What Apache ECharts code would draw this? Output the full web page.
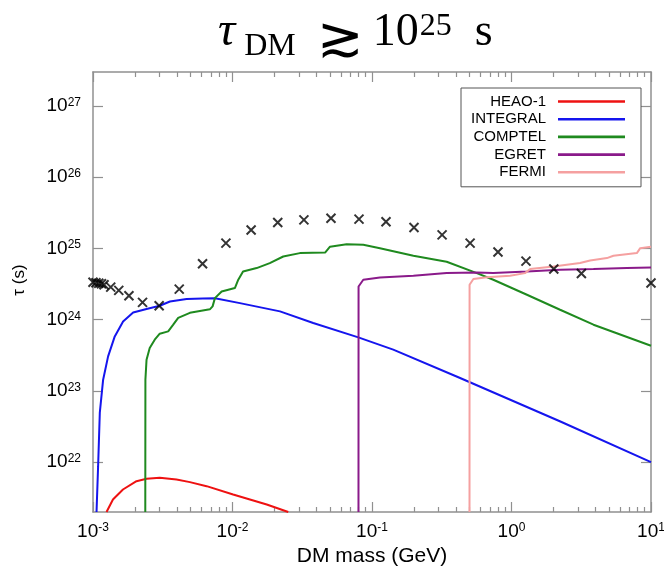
<!DOCTYPE html>
<html>
<head>
<meta charset="utf-8">
<script src="https://cdn.jsdelivr.net/npm/echarts@6/dist/echarts.min.js"></script>
<style>
  html, body { margin: 0; padding: 0; background: #fff; }
  #chart { width: 664px; height: 570px; }
</style>
</head>
<body>
<div id="chart"></div>
<script>
// Major tick positions (decades) on both log axes
const xTicks = [1e-3, 1e-2, 1e-1, 1, 10];
const yTicks = [1e22, 1e23, 1e24, 1e25, 1e26, 1e27];

// HEAO-1 lower bound on the lifetime
const heaoMass = [1.25e-3, 1.39e-3, 1.64e-3, 2.05e-3, 2.42e-3, 3.01e-3, 3.97e-3, 4.95e-3, 6.52e-3, 1.01e-2, 1.76e-2, 2.51e-2];
const heaoTau  = [2.0e21, 3.0e21, 4.14e21, 5.42e21, 5.85e21, 6.04e21, 5.72e21, 5.25e21, 4.61e21, 3.53e21, 2.55e21, 2.0e21];

// INTEGRAL
const integralMass = [1.06e-3, 1.088e-3, 1.119e-3, 1.182e-3, 1.283e-3, 1.432e-3, 1.643e-3, 1.94e-3, 2.42e-3, 3.01e-3, 3.56e-3, 4.69e-3, 6.14e-3, 7.49e-3, 1.13e-2, 2.19e-2, 3.79e-2, 7.98e-2, 0.142, 0.428, 2.22, 10];
const integralTau  = [2.0e21, 8.8e21, 4.97e22, 1.44e23, 3.06e23, 5.83e23, 9.46e23, 1.26e24, 1.41e24, 1.57e24, 1.80e24, 1.95e24, 1.99e24, 2.0e24, 1.71e24, 1.31e24, 8.99e23, 5.65e23, 3.80e23, 1.52e23, 3.76e22, 1.0e22];

// COMPTEL
const comptelMass = [2.37e-3, 2.375e-3, 2.42e-3, 2.55e-3, 2.77e-3, 3.01e-3, 3.46e-3, 3.76e-3, 4.08e-3, 4.95e-3, 6.88e-3, 7.2e-3, 7.48e-3, 8.36e-3, 1.04e-2, 1.10e-2, 1.19e-2, 1.49e-2, 1.85e-2, 2.31e-2, 3.04e-2, 4.61e-2, 5.0e-2, 6.58e-2, 8.66e-2, 0.114, 0.198, 0.343, 0.564, 0.741, 1.29, 2.23, 3.87, 10];
const comptelTau  = [2.0e21, 1.44e23, 2.75e23, 4.01e23, 5.25e23, 6.37e23, 6.86e23, 8.51e23, 1.06e24, 1.25e24, 1.40e24, 1.54e24, 2.01e24, 2.49e24, 2.78e24, 3.64e24, 4.75e24, 5.31e24, 6.24e24, 7.71e24, 8.61e24, 8.77e24, 1.06e25, 1.15e25, 1.125e25, 1.01e25, 7.9e24, 6.5e24, 4.51e24, 3.64e24, 2.24e24, 1.38e24, 8.51e23, 4.32e23];

// EGRET
const egretMass = [0.080, 0.0801, 0.0866, 0.114, 0.198, 0.343, 0.564, 0.741, 1.29, 2.23, 3.87, 6.71, 10];
const egretTau  = [2.0e21, 2.93e24, 3.64e24, 3.92e24, 4.14e24, 4.51e24, 4.60e24, 4.51e24, 4.75e24, 5.02e24, 5.14e24, 5.31e24, 5.41e24];

// FERMI
const fermiMass = [0.500, 0.5005, 0.533, 0.666, 0.977, 1.25, 1.36, 2.0, 3.10, 3.66, 4.83, 5.38, 7.92, 8.37, 10];
const fermiTau  = [2.0e21, 3.09e24, 3.72e24, 3.96e24, 4.14e24, 4.51e24, 5.14e24, 5.58e24, 6.24e24, 6.78e24, 7.33e24, 7.89e24, 8.61e24, 1.01e25, 1.06e25];

// Individual lifetime points (crosses)
const crossMass = [1.0e-3, 1.05e-3, 1.1e-3, 1.15e-3, 1.2e-3, 1.34e-3, 1.53e-3, 1.81e-3, 2.265e-3, 2.98e-3, 4.15e-3, 6.10e-3, 8.97e-3, 1.36e-2, 2.11e-2, 3.25e-2, 5.08e-2, 8.07e-2, 0.126, 0.2, 0.318, 0.505, 0.80, 1.27, 2.01, 3.17, 10];
const crossTau  = [3.36e24, 3.30e24, 3.25e24, 3.20e24, 3.10e24, 2.87e24, 2.58e24, 2.17e24, 1.75e24, 1.57e24, 2.69e24, 6.10e24, 1.19e25, 1.82e25, 2.31e25, 2.52e25, 2.66e25, 2.58e25, 2.37e25, 1.97e25, 1.55e25, 1.19e25, 8.9e24, 6.65e24, 5.14e24, 4.46e24, 3.27e24];

const names  = ['HEAO-1', 'INTEGRAL', 'COMPTEL', 'EGRET', 'FERMI'];
const colors = ['#ee1111', '#1515ee', '#1f8a1f', '#8a1a8a', '#f5a0a0'];

const zip = (xs, ys) => xs.map((x, i) => [x, ys[i]]);

// Minor ticks at 2..9 within each decade of the mass axis
const xMinor = [];
for (let e = -3; e <= 0; e++) {
  for (let k = 2; k <= 9; k++) xMinor.push(Number((k * Math.pow(10, e)).toPrecision(3)));
}

const SANS = "'Liberation Sans', Arial, Helvetica, sans-serif";
const SERIF = "'Liberation Serif', 'DejaVu Serif', serif";
const frameColor = '#909090';

const powLabel = v => '{b|10}{s|' + Math.round(Math.log10(v)) + '}';
const powRich = {
  b: { fontSize: 19, fontFamily: SANS, color: '#000' },
  s: { fontSize: 12, fontFamily: SANS, color: '#000', verticalAlign: 'top' }
};

const xMin = 1e-3, xMax = 10, yMin = 2e21, yMax = 3e27;

function xAxisDef(pos, major, withLabel) {
  return {
    type: 'log', logBase: 10, min: xMin, max: xMax, position: pos,
    axisLine: { show: major, onZero: false, lineStyle: { color: frameColor, width: 1.5 } },
    axisTick: { show: true, inside: true, length: major ? 10 : 5,
                customValues: major ? xTicks : xMinor,
                lineStyle: { color: frameColor, width: 1.2 } },
    axisLabel: withLabel
      ? { show: true, customValues: xTicks, margin: 10, formatter: powLabel, rich: powRich }
      : { show: false },
    splitLine: { show: false },
    minorTick: { show: false }
  };
}

function yAxisDef(pos, withLabel) {
  return {
    type: 'log', logBase: 10, min: yMin, max: yMax, position: pos,
    axisLine: { show: true, onZero: false, lineStyle: { color: frameColor, width: 1.5 } },
    axisTick: { show: true, inside: true, length: 10, customValues: yTicks,
                lineStyle: { color: frameColor, width: 1.2 } },
    axisLabel: withLabel
      ? { show: true, customValues: yTicks, margin: 12, formatter: powLabel, rich: powRich }
      : { show: false },
    splitLine: { show: false },
    minorTick: { show: false }
  };
}

const xAxes = [
  xAxisDef('bottom', true, true),
  xAxisDef('bottom', false, false),
  xAxisDef('top', true, false),
  xAxisDef('top', false, false)
];
Object.assign(xAxes[0], {
  name: 'DM mass (GeV)', nameLocation: 'middle', nameGap: 32,
  nameTextStyle: { fontSize: 21, fontFamily: SANS, color: '#000' }
});

const yAxes = [yAxisDef('left', true), yAxisDef('right', false)];
Object.assign(yAxes[0], {
  name: 'τ (s)', nameLocation: 'middle', nameGap: 65,
  nameTextStyle: { fontSize: 17, fontFamily: SANS, color: '#000', padding: [0, 0, 0, 24] }
});

const limitData = [
  zip(heaoMass, heaoTau),
  zip(integralMass, integralTau),
  zip(comptelMass, comptelTau),
  zip(egretMass, egretTau),
  zip(fermiMass, fermiTau)
];

const series = names.map((n, i) => ({
  name: n, type: 'line', xAxisIndex: 0, yAxisIndex: 0,
  data: limitData[i], symbol: 'none', smooth: false, clip: true,
  lineStyle: { color: colors[i], width: 2 }, itemStyle: { color: colors[i] },
  z: 3
}));

series.push({
  name: 'lifetime points', type: 'scatter', xAxisIndex: 0, yAxisIndex: 0,
  data: zip(crossMass, crossTau),
  symbol: 'path://M0,0L10,10M10,0L0,10', symbolSize: 9,
  itemStyle: { color: 'transparent', borderColor: '#000', borderWidth: 2 },
  z: 4
});

const tStyle = { fontFamily: SERIF, fontWeight: 'normal', color: '#000', verticalAlign: 'top' };

const chart = echarts.init(document.getElementById('chart'), null, { renderer: 'canvas' });
chart.setOption({
  animation: false,
  backgroundColor: '#fff',
  title: {
    text: '{t|τ}{sub|DM}{rel|≳}{n|10}{sup|25}{s|s}',
    left: 217, top: 9.5, padding: 0,
    textStyle: {
      fontWeight: 'normal',
      rich: {
        t:   Object.assign({}, tStyle, { fontSize: 48, fontStyle: 'italic', height: 46, padding: [0, 9, 0, 1] }),
        sub: Object.assign({}, tStyle, { fontSize: 32, height: 32, padding: [21, 0, 0, 0] }),
        rel: Object.assign({}, tStyle, { fontSize: 56, height: 56, padding: [4, 9, 0, 21],
                                         fontFamily: "'DejaVu Serif', 'DejaVu Sans', serif" }),
        n:   Object.assign({}, tStyle, { fontSize: 46, height: 46 }),
        sup: Object.assign({}, tStyle, { fontSize: 32, height: 32, padding: [1, 23, 0, 1] }),
        s:   Object.assign({}, tStyle, { fontSize: 46, height: 46 })
      }
    }
  },
  grid: { left: 93, right: 13, top: 72, bottom: 58, outerBoundsMode: 'none', containLabel: false },
  legend: {
    data: names, orient: 'vertical', align: 'right', icon: 'rect',
    left: 461, top: 88, padding: [6, 16, 7, 6],
    itemWidth: 67, itemHeight: 2.6, itemGap: 2.7,
    backgroundColor: '#fff', borderColor: '#555', borderWidth: 1, borderRadius: 0,
    formatter: n => '{n|' + n + '}',
    textStyle: {
      rich: { n: { width: 79, align: 'right', padding: [0, 7, 0, 0], fontSize: 15, lineHeight: 14, fontFamily: SANS, color: '#000' } }
    },
    selectedMode: false, z: 10
  },
  xAxis: xAxes,
  yAxis: yAxes,
  series: series
});
</script>
</body>
</html>
